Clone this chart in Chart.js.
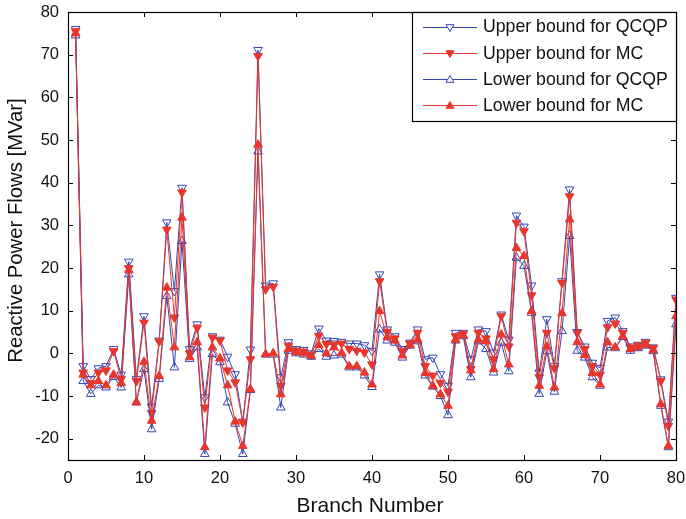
<!DOCTYPE html>
<html><head><meta charset="utf-8">
<script src="https://cdn.jsdelivr.net/npm/chart.js@4.4.1/dist/chart.umd.min.js"></script>
<style>html,body{margin:0;padding:0;background:#fff}#wrap{width:686px;height:519px}</style>
</head><body><div id="wrap"><canvas id="c" width="686" height="519"></canvas></div>
<script>
const branches = [1,2,3,4,5,6,7,8,9,10,11,12,13,14,15,16,17,18,19,20,21,22,23,24,25,26,27,28,29,30,31,32,33,34,35,36,37,38,39,40,41,42,43,44,45,46,47,48,49,50,51,52,53,54,55,56,57,58,59,60,61,62,63,64,65,66,67,68,69,70,71,72,73,74,75,76,77,78,79,80];
const upperQCQP = [76,-3,-6,-3.5,-3,1,-5,21.5,-6,8.7,-12.5,3,30.7,14.6,38.8,1,6.8,-10.3,4,3.2,-0.8,-4.9,-16,0.9,71.1,15.9,16.4,-5.6,2.6,1,0.8,0,5.8,3,2.9,2.7,2.3,2.3,1.9,0.6,18.5,5.6,4,1,2.5,5.6,-1.4,-1,-4.9,-7.6,4.8,4.8,-1.4,5.6,5.2,0.2,9.1,3.2,32.3,29.7,15.9,-4.5,8,-3,16.9,38.4,5,1.6,-2.2,-3.4,7.6,8.4,5.2,1.6,2,2.7,1.4,-6.1,-16,13];
const upperMC = [75.5,-4.5,-7,-4.5,-4,0.5,-6,20,-6.5,7.2,-14,2.8,29,8.4,37.7,0,6,-12.7,3.7,3,-4,-6.8,-16.2,-1.4,69.7,15,15.6,-7.6,1.8,0.6,0.4,-0.3,4.1,2.2,2,2.3,1,0.6,0.2,-2.6,16.9,5,3.5,0.5,2.3,4.8,-3,-5.2,-6.9,-9,4,4.5,-3.7,4.8,3.5,-1.4,8.7,1.6,30.6,28.6,13.6,-5.6,4.8,-3.5,16.5,36.8,4.8,1,-3,-5,6.1,7,4.8,1.3,1.8,2.5,1.2,-6.5,-17,12.6];
const lowerQCQP = [74.5,-6.5,-9.5,-7.5,-8,-5.5,-8,18.5,-11.5,-3.7,-17.8,-6,13.4,-3.3,26.3,-1.3,1.4,-23.6,-0.2,-2.1,-11.5,-16.5,-23.6,-8.6,47.3,-0.3,-0.3,-12.7,0.6,0,-0.3,-0.8,1,-0.8,-0.5,-0.3,-3.3,-3.3,-5.2,-7.9,5.6,3,2.5,-1,1.8,2.8,-5.2,-7.8,-10,-14.5,3,4,-5.6,2.8,1,-4.5,2.5,-4.2,22.4,20.5,9.5,-9.5,0.5,-9,5.2,27.5,0.6,-1,-5.6,-7.6,1.4,1.2,3.8,0.6,1.2,1.8,0.5,-12.3,-22,6.8];
const lowerMC = [75,-5,-7.5,-6.5,-7.5,-5,-7,19.5,-11.5,-2,-15.8,-5.3,15.4,1.4,31.8,-0.9,2.6,-22,1.4,-1.2,-7.5,-16,-21.7,-8.4,48.9,-0.2,0,-9.6,1,0.3,0,-0.6,1.9,0,1.4,0.1,-3,-3,-4.5,-7.3,9.9,3.8,3,-0.5,2,3.2,-4.6,-7.6,-9.6,-12.3,3.2,4.2,-4,3.2,2.8,-3.7,4.4,-2.6,24.7,22.8,9.9,-7.6,1.6,-8,9.4,31.4,2.6,-0.4,-4.6,-7.3,2.6,1.4,4,1,1.5,2,0.8,-11.9,-21.7,8.7];
const xTicks = [0,10,20,30,40,50,60,70,80];
const yTicks = [-20,-10,0,10,20,30,40,50,60,70,80];
const seriesNames = ['Upper bound for QCQP','Upper bound for MC','Lower bound for QCQP','Lower bound for MC'];
const xTitle = 'Branch Number';
const yTitle = 'Reactive Power Flows [MVar]';

const BLUE = '#3447b4', RED = '#e8362c';
const FONT = '"Liberation Sans", Arial, Helvetica, sans-serif';
const pts = arr => branches.map((b, i) => ({x: b, y: arr[i]}));

const styles = [
  {color: BLUE, fill: 'rgba(0,0,0,0)', rot: 180},
  {color: RED, fill: RED, rot: 180},
  {color: BLUE, fill: 'rgba(0,0,0,0)', rot: 0},
  {color: RED, fill: RED, rot: 0}
];
const allData = [upperQCQP, upperMC, lowerQCQP, lowerMC];

const datasets = allData.map((arr, k) => ({
  label: seriesNames[k],
  data: pts(arr),
  borderColor: styles[k].color,
  borderWidth: 1,
  pointStyle: 'triangle',
  pointRotation: styles[k].rot,
  pointRadius: 5,
  pointBorderWidth: 1,
  pointBorderColor: styles[k].color,
  pointBackgroundColor: styles[k].fill,
  tension: 0,
  order: 4 - k
}));

const framePlugin = {
  id: 'frame',
  afterDraw(chart) {
    const {ctx, chartArea: a, scales} = chart;
    ctx.save();
    ctx.strokeStyle = '#000';
    ctx.lineWidth = 1;
    const tl = 5;
    ctx.beginPath();
    xTicks.forEach(v => {
      const px = Math.round(scales.x.getPixelForValue(v)) + 0.5;
      ctx.moveTo(px, a.bottom); ctx.lineTo(px, a.bottom - tl);
      ctx.moveTo(px, a.top); ctx.lineTo(px, a.top + tl);
    });
    yTicks.forEach(v => {
      const py = Math.round(scales.y.getPixelForValue(v)) + 0.5;
      ctx.moveTo(a.left, py); ctx.lineTo(a.left + tl, py);
      ctx.moveTo(a.right, py); ctx.lineTo(a.right - tl, py);
    });
    ctx.stroke();
    ctx.lineWidth = 1.2;
    ctx.strokeRect(Math.round(a.left) + 0.5, Math.round(a.top) + 0.5, Math.round(a.right - a.left), Math.round(a.bottom - a.top));

    // axis titles
    ctx.fillStyle = '#111';
    ctx.textAlign = 'center';
    ctx.textBaseline = 'middle';
    ctx.font = '21px ' + FONT;
    ctx.fillText(xTitle, (a.left + a.right) / 2 - 2, 506);
    ctx.save();
    ctx.translate(16, 230.5);
    ctx.rotate(-Math.PI / 2);
    ctx.font = '20.3px ' + FONT;
    ctx.fillText(yTitle, 0, 0);
    ctx.restore();

    // legend
    const lx = 412, ly = Math.round(a.top) + 0.5, lw = Math.round(a.right) - 412, lh = 109;
    ctx.fillStyle = '#fff';
    ctx.fillRect(lx, ly, lw, lh);
    ctx.strokeStyle = '#000';
    ctx.lineWidth = 1.2;
    ctx.strokeRect(lx + 0.5, ly, lw, lh);
    ctx.font = '17.7px ' + FONT;
    ctx.textBaseline = 'middle';
    ctx.textAlign = 'left';
    seriesNames.forEach((name, k) => {
      const y = 26.5 + k * 26.3;
      const s = styles[k];
      const yy = Math.round(y) + 0.5;
      ctx.strokeStyle = s.color;
      ctx.lineWidth = 1;
      ctx.beginPath();
      ctx.moveTo(423, yy); ctx.lineTo(477, yy);
      ctx.stroke();
      ctx.fillStyle = s.fill;
      ctx.beginPath();
      const r = 4;
      if (s.rot === 180) {
        ctx.moveTo(450 - r, yy - r * 0.7); ctx.lineTo(450 + r, yy - r * 0.7); ctx.lineTo(450, yy + r);
      } else {
        ctx.moveTo(450 - r, yy + r * 0.7); ctx.lineTo(450 + r, yy + r * 0.7); ctx.lineTo(450, yy - r);
      }
      ctx.closePath();
      if (s.fill !== 'rgba(0,0,0,0)') { ctx.fill(); } else { ctx.fillStyle = '#fff'; ctx.fill(); }
      ctx.stroke();
      ctx.fillStyle = '#111';
      ctx.fillText(name, 483, y + 1);
    });
    ctx.restore();
  }
};

new Chart(document.getElementById('c'), {
  type: 'line',
  data: {datasets},
  options: {
    responsive: false,
    animation: false,
    devicePixelRatio: 1,
    layout: {padding: {top: 12, right: 10, left: 0, bottom: 0}},
    plugins: {legend: {display: false}, tooltip: {enabled: false}},
    scales: {
      x: {
        type: 'linear', min: 0, max: 80,
        grid: {display: false, drawTicks: false},
        border: {display: false},
        afterBuildTicks: s => { s.ticks = xTicks.map(v => ({value: v})); },
        afterFit: s => { s.height = 59; s.paddingLeft = 0; s.paddingRight = 0; },
        ticks: {padding: 9, color: '#111', font: {family: FONT, size: 16.5}, maxRotation: 0},
        title: {display: false}
      },
      y: {
        type: 'linear', min: -25, max: 80,
        grid: {display: false, drawTicks: false},
        border: {display: false},
        afterBuildTicks: s => { s.ticks = yTicks.map(v => ({value: v})); },
        afterFit: s => { s.width = 68; s.paddingTop = 0; s.paddingBottom = 0; },
        ticks: {padding: 9, color: '#111', font: {family: FONT, size: 16.5}},
        title: {display: false}
      }
    }
  },
  plugins: [framePlugin]
});
</script>
</body></html>
